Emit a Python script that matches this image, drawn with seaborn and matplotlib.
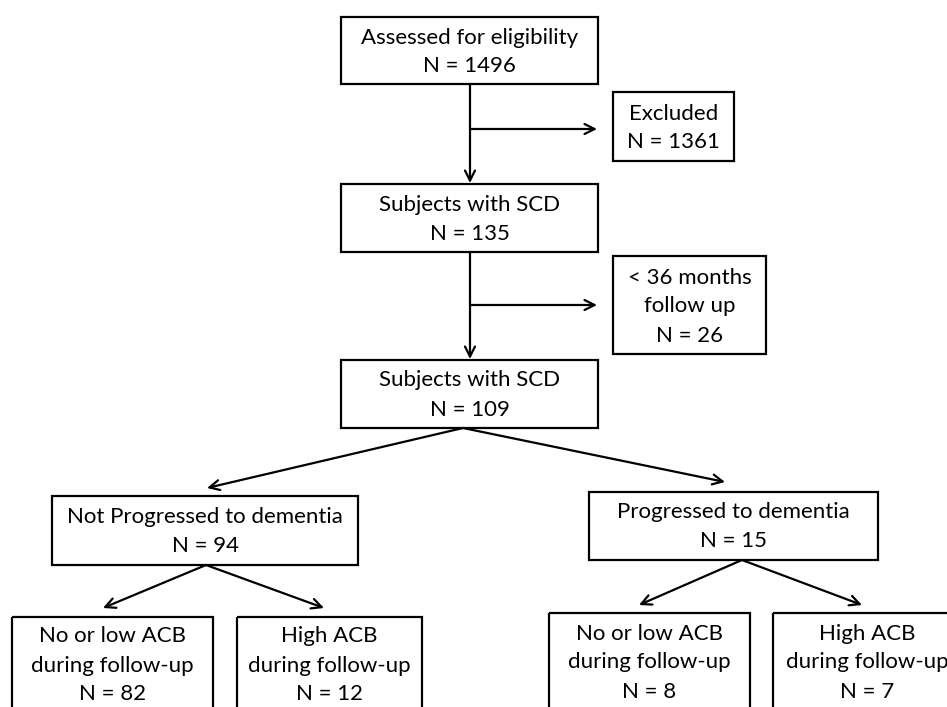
import matplotlib
matplotlib.use("Agg")
import matplotlib.pyplot as plt
from matplotlib.patches import Rectangle
import seaborn as sns

sns.set_theme(style="white")
plt.rcParams['font.family'] = ['Lato', 'DejaVu Sans']

# ---- data ----
labels = [
    ["Assessed for eligibility"],
    ["Excluded"],
    ["Subjects with SCD"],
    ["< 36 months", "follow up"],
    ["Subjects with SCD"],
    ["Not Progressed to dementia"],
    ["Progressed to dementia"],
    ["No or low ACB", "during follow-up"],
    ["High ACB", "during follow-up"],
    ["No or low ACB", "during follow-up"],
    ["High ACB", "during follow-up"],
]
counts = [1496, 1361, 135, 26, 109, 94, 15, 82, 12, 8, 7]

# ---- layout (pixels, y downward) ----
boxes = [
    (341, 17, 598, 84),
    (613, 92, 734, 161),
    (341, 184, 598, 252),
    (613, 256, 766, 354),
    (341, 360, 598, 428),
    (52, 496, 358, 565),
    (589, 492, 878, 560),
    (12, 617, 213, 720),
    (237, 617, 422, 720),
    (549, 613, 750, 720),
    (773, 613, 962, 720),
]
text_centers = [52, 128, 219.5, 306.5, 395, 531.5, 526.5, 665.5, 665.5, 662.5, 662.5]
text_x = [None, None, None, None, None, None, None, None, None, None, 867]

fig = plt.figure(figsize=(9.47, 7.07), dpi=100)
ax = fig.add_axes([0, 0, 1, 1])
ax.set_xlim(0, 947)
ax.set_ylim(707, 0)
ax.axis("off")

LW = 1.6
FS = 16
LINE = 29

for (x0, y0, x1, y1), lab, n, cy, tx in zip(boxes, labels, counts, text_centers, text_x):
    ax.add_patch(Rectangle((x0, y0), x1 - x0, y1 - y0, fill=False,
                           edgecolor="black", lw=LW, clip_on=True))
    lines = lab + [f"N = {n}"]
    cx = tx if tx is not None else (x0 + x1) / 2
    k = len(lines)
    for i, t in enumerate(lines):
        yy = cy + (i - (k - 1) / 2) * LINE
        ax.text(cx, yy, t, ha="center", va="center", fontsize=FS, color="black")

aprops = dict(arrowstyle="->,head_length=0.6,head_width=0.3", lw=LW,
              color="black", shrinkA=0, shrinkB=0, mutation_scale=12)

def arrow(x0, y0, x1, y1):
    ax.annotate("", xy=(x1, y1), xytext=(x0, y0), arrowprops=aprops)

# vertical arrows
arrow(470, 84, 470, 183)
arrow(470, 252, 470, 359)
# side branches
arrow(470, 129, 597, 129)
arrow(470, 305, 597, 305)
# fork from box 5
arrow(463, 428, 207, 488)
arrow(463, 428, 725, 482)
# fork from box 6
arrow(206, 565, 103, 608)
arrow(206, 565, 324, 608)
# fork from box 7
arrow(742, 560, 639, 605)
arrow(742, 560, 862, 605)

fig.savefig("out.png", dpi=100, facecolor="white")
